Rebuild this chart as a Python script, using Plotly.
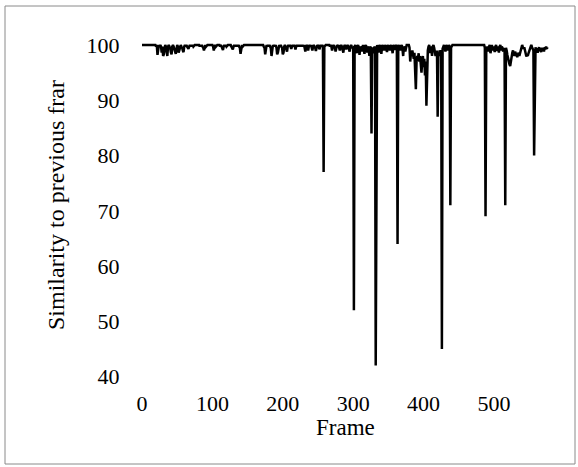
import plotly.graph_objects as go

# Similarity to previous frame (%), frames 0..576
sim_000_099 = [
    100, 100, 100, 100, 100, 100, 100, 100, 100, 100,
    100, 100, 100, 100, 100, 100, 100, 100, 100, 100,
    99.7, 100, 98.2, 99.7, 100, 99.7, 100, 99.7, 98.6, 99.7,
    98.0, 98.3, 99.7, 100, 99.7, 98.5, 98.0, 99.7, 100, 99.7,
    99.5, 98.7, 98.3, 99.7, 100, 99.7, 99.4, 98.8, 98.4, 99.7,
    100, 99.7, 98.6, 99.0, 99.7, 100, 99.7, 99.5, 99.0, 98.7,
    99.7, 100, 99.7, 100, 99.7, 99.5, 99.3, 99.7, 100, 99.7,
    100, 99.7, 100, 99.7, 100, 100, 100, 100, 100, 100,
    100, 100, 99.7, 100, 99.7, 100, 99.7, 99.5, 99.0, 99.7,
    100, 99.7, 100, 100, 100, 100, 100, 100, 100, 100,
]
sim_100_199 = [
    100, 99.7, 99.0, 99.7, 100, 99.7, 100, 100, 100, 100,
    100, 99.7, 100, 99.7, 99.5, 99.1, 99.7, 100, 99.7, 100,
    99.7, 100, 100, 100, 100, 100, 100, 99.7, 99.5, 99.2,
    99.7, 100, 99.7, 100, 99.7, 100, 99.7, 100, 99.7, 99.5,
    98.4, 99.7, 100, 99.7, 100, 100, 100, 100, 100, 100,
    100, 100, 100, 100, 100, 100, 100, 100, 100, 100,
    100, 100, 100, 100, 100, 100, 100, 100, 100, 100,
    100, 100, 100, 99.7, 99.5, 98.3, 99.7, 100, 99.7, 100,
    99.7, 100, 99.7, 99.4, 98.0, 99.7, 100, 99.7, 100, 99.7,
    100, 99.5, 98.3, 98.6, 99.7, 100, 99.7, 100, 99.7, 99.5,
]
sim_200_299 = [
    98.3, 98.6, 99.7, 100, 99.7, 99.4, 98.8, 99.7, 100, 99.7,
    100, 99.7, 99.3, 99.7, 100, 99.7, 100, 99.7, 99.2, 99.7,
    100, 99.7, 100, 99.7, 100, 99.7, 100, 99.7, 100, 99.7,
    100, 99.5, 98.8, 99.7, 100, 99.6, 99.0, 99.7, 100, 99.7,
    100, 99.5, 99.0, 99.7, 100, 99.7, 99.5, 98.9, 99.7, 100,
    99.7, 100, 99.2, 99.7, 100, 99.7, 100, 99.7, 77, 99.7,
    100, 100, 100, 100, 100, 100, 100, 99.7, 100, 99.7,
    99.0, 99.7, 100, 99.7, 99.5, 98.8, 99.7, 100, 99.7, 100,
    99.5, 99.0, 99.7, 100, 99.7, 99.3, 98.6, 99.7, 100, 99.7,
    99.2, 99.7, 100, 99.7, 99.4, 98.8, 99.7, 100, 99.7, 99.5,
]
sim_300_399 = [
    99.7, 52, 99.7, 100, 99.5, 98.5, 99.7, 100, 99.4, 98.2,
    99.7, 99.5, 98.8, 99.7, 100, 99.3, 98.4, 99.7, 100, 99.5,
    98.6, 99.7, 99.4, 98.0, 99.7, 99.5, 84, 99.6, 99.2, 98.5,
    99.7, 99.5, 42, 99.6, 100, 99.5, 98.6, 99.7, 100, 99.4,
    98.4, 99.7, 100, 99.5, 99.0, 99.7, 100, 99.4, 98.7, 99.7,
    100, 99.5, 99.0, 99.7, 100, 99.4, 98.5, 99.7, 100, 99.1,
    99.7, 100, 99.7, 64, 99.7, 100, 99.5, 99.0, 99.7, 100,
    99.3, 98.0, 99.7, 99.5, 98.8, 99.7, 100, 100, 100, 100,
    99.5, 97.0, 98.5, 98.0, 99.0, 98.2, 97.5, 98.6, 96.0, 92.0,
    97.0, 98.0, 97.6, 98.5, 97.0, 98.0, 96.5, 95.0, 97.0, 98.0,
]
sim_400_499 = [
    96.0, 97.5, 94.5, 97.0, 89.0, 97.5, 99.0, 99.7, 100, 98.5,
    99.7, 99.4, 98.0, 99.7, 100, 99.5, 99.0, 98.0, 98.5, 99.0,
    87, 98.5, 98.0, 99.0, 98.6, 99.0, 45, 99.3, 99.7, 100,
    99.5, 98.8, 99.7, 100, 99.0, 99.7, 100, 99.7, 71, 99.5,
    100, 100, 100, 100, 100, 100, 100, 100, 100, 100,
    100, 100, 100, 100, 100, 100, 100, 100, 100, 100,
    100, 100, 100, 100, 100, 100, 100, 100, 100, 100,
    100, 100, 100, 100, 100, 100, 100, 100, 100, 100,
    100, 100, 100, 100, 100, 100, 100, 99.5, 69, 99.0,
    99.7, 99.5, 98.8, 99.7, 100, 98.5, 99.7, 100, 99.0, 99.7,
]
sim_500_576 = [
    99.5, 98.7, 99.7, 100, 98.9, 99.7, 99.5, 98.6, 99.7, 100,
    99.0, 99.7, 99.5, 98.8, 99.2, 99.4, 71, 99.5, 99.0, 98.2,
    97.5, 97.0, 96.5, 96.2, 97.2, 98.0, 98.6, 99.0, 98.5, 98.0,
    98.8, 98.5, 98.0, 97.8, 98.2, 98.6, 98.0, 98.4, 99.0, 99.5,
    100, 99.6, 99.3, 99.6, 98.8, 98.2, 97.9, 98.3, 98.0, 98.5,
    99.0, 99.4, 99.7, 100, 99.6, 99.2, 99.0, 80, 99.2, 99.6,
    98.8, 99.4, 98.6, 99.2, 99.6, 98.9, 99.3, 98.7, 99.5, 99.0,
    99.4, 98.8, 99.6, 99.2, 99.7, 99.3, 99.6,
]

similarity = (sim_000_099 + sim_100_199 + sim_200_299 +
              sim_300_399 + sim_400_499 + sim_500_576)
frames = list(range(len(similarity)))

x_ticks = [0, 100, 200, 300, 400, 500]
y_ticks = [40, 50, 60, 70, 80, 90, 100]
x_title = "Frame"
y_title = "Similarity to previous frar"

FONT = "Liberation Serif, Times New Roman, serif"

fig = go.Figure()
fig.add_trace(go.Scatter(
    x=frames, y=similarity, mode="lines",
    line=dict(color="black", width=2.5),
    hoverinfo="skip", showlegend=False,
))

# plot area in pixels: left 140, right 552, top 35, bottom 388
L, R, T, B = 140, 552, 35, 388
W, H = 578, 467
pw, ph = R - L, B - T

fig.update_layout(
    width=W, height=H,
    margin=dict(l=L, r=W - R, t=T, b=H - B, pad=0),
    paper_bgcolor="white", plot_bgcolor="white",
    font=dict(family=FONT, size=22, color="black"),
    xaxis=dict(
        range=[-2.84, 582.4], tickmode="array", tickvals=x_ticks,
        showgrid=False, zeroline=False, showline=False,
        ticks="",
        tickfont=dict(family=FONT, size=22, color="black"),
    ),
    yaxis=dict(
        range=[37.95, 101.8], tickmode="array", tickvals=y_ticks,
        showgrid=False, zeroline=False, showline=False,
        ticks="outside", ticklen=15, tickcolor="rgba(0,0,0,0)",
        tickfont=dict(family=FONT, size=22, color="black"),
    ),
    annotations=[
        dict(text=x_title, xref="paper", yref="paper",
             x=(345 - L) / pw, y=-(427 - B) / ph,
             xanchor="center", yanchor="middle", showarrow=False,
             font=dict(family=FONT, size=23, color="black")),
        dict(text=y_title, xref="paper", yref="paper",
             x=(56 - L) / pw, y=1 - (205 - T) / ph, textangle=-90,
             xanchor="center", yanchor="middle", showarrow=False,
             font=dict(family=FONT, size=24, color="black")),
    ],
    shapes=[
        dict(type="rect", xref="paper", yref="paper",
             x0=(5 - L) / pw, x1=(575 - L) / pw,
             y0=-(464 - B) / ph, y1=1 + (T - 6) / ph,
             line=dict(color="#8a8a8a", width=1), fillcolor="rgba(0,0,0,0)",
             layer="below"),
    ],
)

fig.write_html("out.html", config={"displayModeBar": False},
               post_script="document.body.style.margin='0';")
